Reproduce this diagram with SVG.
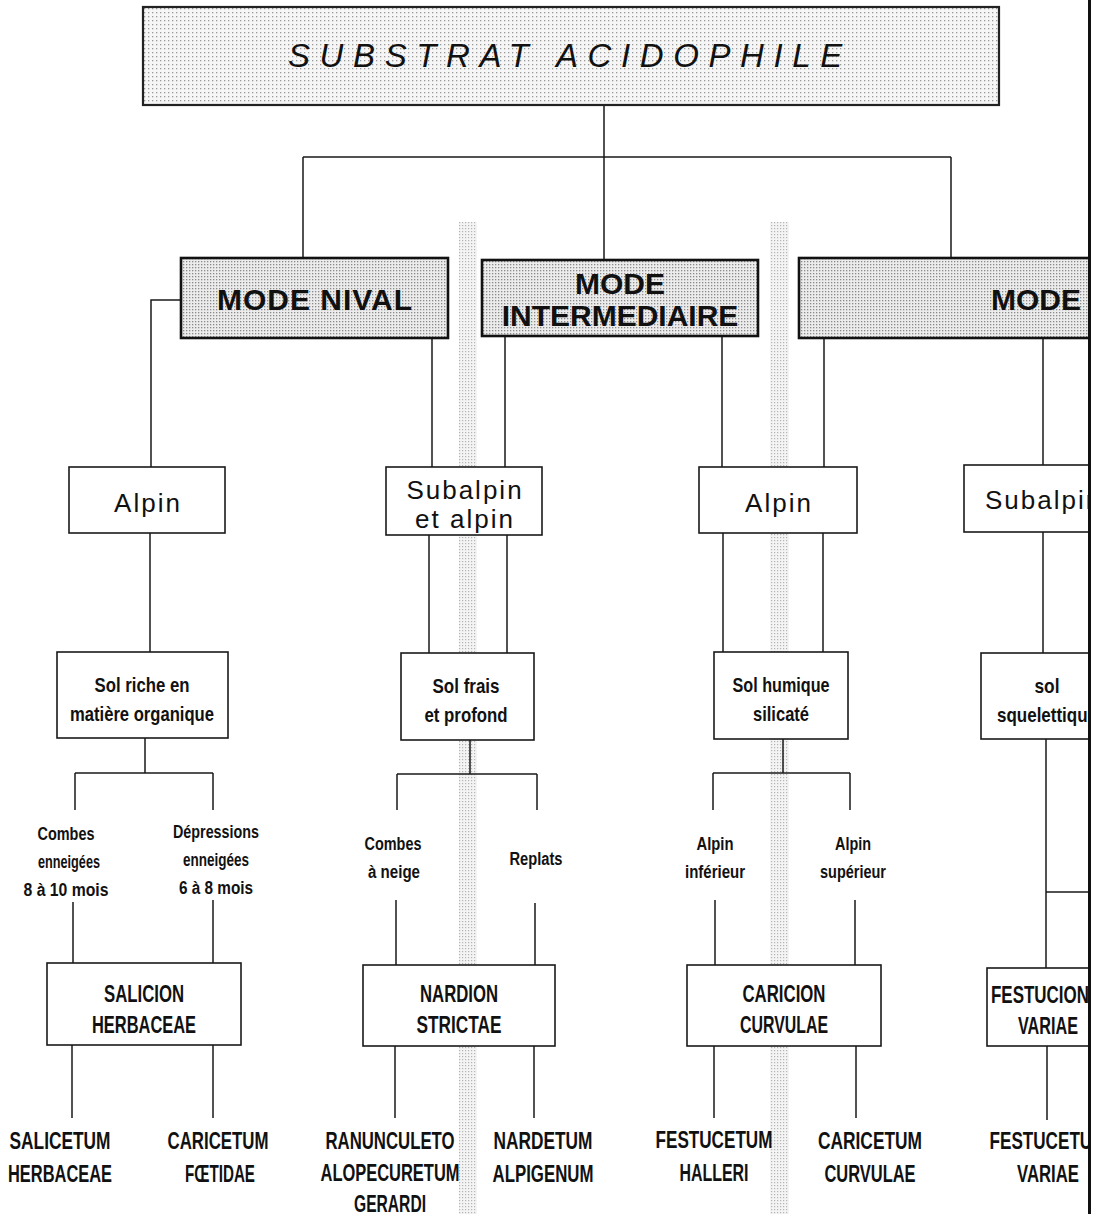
<svg xmlns="http://www.w3.org/2000/svg" width="1094" height="1214" viewBox="0 0 1094 1214">
  <style>
    .ln { fill: none; stroke: #1a1a1a; stroke-width: 1.5; }
    .box { fill: #ffffff; stroke: #1a1a1a; stroke-width: 1.6; }
    .mode { fill: url(#dotsMode); stroke: #111; stroke-width: 2.6; }
    .head { fill: url(#dotsHead); stroke: #222; stroke-width: 2.2; }
    .strip { fill: url(#dotsStrip); }
    .title { font-family: "Liberation Sans", Arial, sans-serif; font-style: italic; font-size: 33px; letter-spacing: 9.6px; fill: #111; }
    .modeT { font-family: "Liberation Sans", Arial, sans-serif; font-weight: bold; font-size: 30px; fill: #111; text-anchor: middle; }
    .zone { font-family: "Liberation Sans", Arial, sans-serif; font-size: 26px; letter-spacing: 2px; fill: #111; text-anchor: middle; }
    .cnd { font-family: "Liberation Sans Narrow", "Liberation Sans", Arial, sans-serif; font-weight: bold; fill: #111; text-anchor: middle; }
    .s21 { font-size: 21px; }
    .s18 { font-size: 18px; }
    .s23 { font-size: 23px; }
  </style>
  <defs>
    <pattern id="dotsHead" width="4" height="4" patternUnits="userSpaceOnUse">
      <rect width="4" height="4" fill="#f6f6f6"/>
      <rect x="0" y="0" width="1.3" height="1.3" fill="#9a9a9a"/>
    </pattern>
    <pattern id="dotsMode" width="3" height="3" patternUnits="userSpaceOnUse">
      <rect width="3" height="3" fill="#ececec"/>
      <rect x="0" y="0" width="1.3" height="1.3" fill="#8a8a8a"/>
    </pattern>
    <pattern id="dotsStrip" width="3" height="3" patternUnits="userSpaceOnUse">
      <rect width="3" height="3" fill="#f4f4f4"/>
      <rect x="0" y="0" width="1.2" height="1.2" fill="#b4b4b4"/>
    </pattern>
    <clipPath id="page">
      <rect x="0" y="0" width="1088" height="1214"/>
    </clipPath>
  </defs>

  <rect x="0" y="0" width="1094" height="1214" fill="#ffffff"/>

  <g clip-path="url(#page)">
    <!-- shaded vertical bands -->
    <g id="bands">
      <rect class="strip" x="459" y="222" width="18" height="992"/>
      <rect class="strip" x="770" y="222" width="19" height="992"/>
    </g>

    <!-- connectors -->
    <g id="connectors">
      <path class="ln" d="M604 105 V157 M303 157 H951 M303 157 V258 M604 157 V260 M951 157 V258"/>
      <path class="ln" d="M181 300 H151 V467 M432 338 V467 M505 336 V467 M722 336 V467 M824 338 V467 M1043 338 V465"/>
      <path class="ln" d="M150 533 V652 M429 535 V653 M507 535 V653 M723 533 V652 M823 533 V652 M1043 532 V653"/>
      <path class="ln" d="M145 738 V773 M75 773 H213 M75 773 V810 M213 773 V810"/>
      <path class="ln" d="M470 740 V774 M397 774 H537 M397 774 V810 M537 774 V810"/>
      <path class="ln" d="M783 739 V773 M713 773 H850 M713 773 V810 M850 773 V810"/>
      <path class="ln" d="M73 902 V963 M213 900 V963 M396 900 V965 M535 903 V965 M715 900 V965 M855 900 V965"/>
      <path class="ln" d="M72 1045 V1118 M213 1045 V1118 M395 1046 V1118 M534 1046 V1118 M714 1046 V1118 M856 1046 V1118 M1047 1046 V1120"/>
      <path class="ln" d="M1046 739 V968 M1046 892 H1088"/>
    </g>

    <!-- root -->
    <g id="substrat">
      <rect class="head" x="143" y="7" width="856" height="98"/>
      <text class="title" x="288" y="67">SUBSTRAT ACIDOPHILE</text>
    </g>

    <!-- modes -->
    <g id="mode-nival">
      <rect class="mode" x="181" y="258" width="267" height="80"/>
      <text class="modeT" x="315" y="310" letter-spacing="1">MODE NIVAL</text>
    </g>
    <g id="mode-intermediaire">
      <rect class="mode" x="482" y="260" width="276" height="76"/>
      <text class="modeT" x="620" y="294">MODE</text>
      <text class="modeT" x="620" y="326">INTERMEDIAIRE</text>
    </g>
    <g id="mode-droite">
      <rect class="mode" x="799" y="258" width="310" height="80"/>
      <text class="modeT" x="1036" y="310">MODE</text>
    </g>

    <!-- altitude levels -->
    <g id="alpin-1">
      <rect class="box" x="69" y="467" width="156" height="66"/>
      <text class="zone" x="148" y="512">Alpin</text>
    </g>
    <g id="subalpin-alpin">
      <rect class="box" x="386" y="467" width="156" height="68"/>
      <text class="zone" x="465" y="499">Subalpin</text>
      <text class="zone" x="465" y="528">et alpin</text>
    </g>
    <g id="alpin-2">
      <rect class="box" x="699" y="467" width="158" height="66"/>
      <text class="zone" x="779" y="512">Alpin</text>
    </g>
    <g id="subalpin-droite">
      <rect class="box" x="964" y="465" width="140" height="67"/>
      <text class="zone" x="985" y="509" style="text-anchor:start">Subalpin</text>
    </g>

    <!-- soils -->
    <g id="sol-riche">
      <rect class="box" x="57" y="652" width="171" height="86"/>
      <text class="cnd s21" x="142" y="692" textLength="95" lengthAdjust="spacingAndGlyphs">Sol riche en</text>
      <text class="cnd s21" x="142" y="721" textLength="144" lengthAdjust="spacingAndGlyphs">matière organique</text>
    </g>
    <g id="sol-frais">
      <rect class="box" x="401" y="653" width="133" height="87"/>
      <text class="cnd s21" x="466" y="693" textLength="67" lengthAdjust="spacingAndGlyphs">Sol frais</text>
      <text class="cnd s21" x="466" y="722" textLength="83" lengthAdjust="spacingAndGlyphs">et profond</text>
    </g>
    <g id="sol-humique">
      <rect class="box" x="714" y="652" width="134" height="87"/>
      <text class="cnd s21" x="781" y="692" textLength="97" lengthAdjust="spacingAndGlyphs">Sol humique</text>
      <text class="cnd s21" x="781" y="721" textLength="56" lengthAdjust="spacingAndGlyphs">silicaté</text>
    </g>
    <g id="sol-squelettique">
      <rect class="box" x="981" y="653" width="130" height="86"/>
      <text class="cnd s21" x="1047" y="693" textLength="25" lengthAdjust="spacingAndGlyphs">sol</text>
      <text class="cnd s21" x="1047" y="722" textLength="100" lengthAdjust="spacingAndGlyphs">squelettique</text>
    </g>

    <!-- site conditions -->
    <g id="combes-enneigees">
      <text class="cnd s18" x="66" y="840" textLength="57" lengthAdjust="spacingAndGlyphs">Combes</text>
      <text class="cnd s18" x="69" y="868" textLength="62" lengthAdjust="spacingAndGlyphs">enneigées</text>
      <text class="cnd s18" x="66" y="896" textLength="85" lengthAdjust="spacingAndGlyphs">8 à 10 mois</text>
    </g>
    <g id="depressions-enneigees">
      <text class="cnd s18" x="216" y="838" textLength="86" lengthAdjust="spacingAndGlyphs">Dépressions</text>
      <text class="cnd s18" x="216" y="866" textLength="66" lengthAdjust="spacingAndGlyphs">enneigées</text>
      <text class="cnd s18" x="216" y="894" textLength="74" lengthAdjust="spacingAndGlyphs">6 à 8 mois</text>
    </g>
    <g id="combes-neige">
      <text class="cnd s18" x="393" y="850" textLength="57" lengthAdjust="spacingAndGlyphs">Combes</text>
      <text class="cnd s18" x="394" y="878" textLength="52" lengthAdjust="spacingAndGlyphs">à neige</text>
    </g>
    <g id="replats">
      <text class="cnd s18" x="536" y="865" textLength="53" lengthAdjust="spacingAndGlyphs">Replats</text>
    </g>
    <g id="alpin-inferieur">
      <text class="cnd s18" x="715" y="850" textLength="37" lengthAdjust="spacingAndGlyphs">Alpin</text>
      <text class="cnd s18" x="715" y="878" textLength="60" lengthAdjust="spacingAndGlyphs">inférieur</text>
    </g>
    <g id="alpin-superieur">
      <text class="cnd s18" x="853" y="850" textLength="36" lengthAdjust="spacingAndGlyphs">Alpin</text>
      <text class="cnd s18" x="853" y="878" textLength="66" lengthAdjust="spacingAndGlyphs">supérieur</text>
    </g>

    <!-- alliances -->
    <g id="salicion">
      <rect class="box" x="47" y="963" width="194" height="82"/>
      <text class="cnd s23" x="144" y="1002" textLength="80" lengthAdjust="spacingAndGlyphs">SALICION</text>
      <text class="cnd s23" x="144" y="1033" textLength="104" lengthAdjust="spacingAndGlyphs">HERBACEAE</text>
    </g>
    <g id="nardion">
      <rect class="box" x="363" y="965" width="192" height="81"/>
      <text class="cnd s23" x="459" y="1002" textLength="78" lengthAdjust="spacingAndGlyphs">NARDION</text>
      <text class="cnd s23" x="459" y="1033" textLength="85" lengthAdjust="spacingAndGlyphs">STRICTAE</text>
    </g>
    <g id="caricion">
      <rect class="box" x="687" y="965" width="194" height="81"/>
      <text class="cnd s23" x="784" y="1002" textLength="83" lengthAdjust="spacingAndGlyphs">CARICION</text>
      <text class="cnd s23" x="784" y="1033" textLength="88" lengthAdjust="spacingAndGlyphs">CURVULAE</text>
    </g>
    <g id="festucion">
      <rect class="box" x="987" y="968" width="130" height="78"/>
      <text class="cnd s23" x="1040" y="1003" textLength="98" lengthAdjust="spacingAndGlyphs">FESTUCION</text>
      <text class="cnd s23" x="1048" y="1034" textLength="60" lengthAdjust="spacingAndGlyphs">VARIAE</text>
    </g>

    <!-- associations -->
    <g id="salicetum">
      <text class="cnd s23" x="60" y="1149" textLength="101" lengthAdjust="spacingAndGlyphs">SALICETUM</text>
      <text class="cnd s23" x="60" y="1182" textLength="104" lengthAdjust="spacingAndGlyphs">HERBACEAE</text>
    </g>
    <g id="caricetum-foetidae">
      <text class="cnd s23" x="218" y="1149" textLength="101" lengthAdjust="spacingAndGlyphs">CARICETUM</text>
      <text class="cnd s23" x="220" y="1182" textLength="70" lengthAdjust="spacingAndGlyphs">FŒTIDAE</text>
    </g>
    <g id="ranunculeto">
      <text class="cnd s23" x="390" y="1149" textLength="129" lengthAdjust="spacingAndGlyphs">RANUNCULETO</text>
      <text class="cnd s23" x="390" y="1181" textLength="139" lengthAdjust="spacingAndGlyphs">ALOPECURETUM</text>
      <text class="cnd s23" x="390" y="1212" textLength="72" lengthAdjust="spacingAndGlyphs">GERARDI</text>
    </g>
    <g id="nardetum">
      <text class="cnd s23" x="543" y="1149" textLength="99" lengthAdjust="spacingAndGlyphs">NARDETUM</text>
      <text class="cnd s23" x="543" y="1182" textLength="101" lengthAdjust="spacingAndGlyphs">ALPIGENUM</text>
    </g>
    <g id="festucetum-halleri">
      <text class="cnd s23" x="714" y="1148" textLength="117" lengthAdjust="spacingAndGlyphs">FESTUCETUM</text>
      <text class="cnd s23" x="714" y="1181" textLength="69" lengthAdjust="spacingAndGlyphs">HALLERI</text>
    </g>
    <g id="caricetum-curvulae">
      <text class="cnd s23" x="870" y="1149" textLength="104" lengthAdjust="spacingAndGlyphs">CARICETUM</text>
      <text class="cnd s23" x="870" y="1182" textLength="91" lengthAdjust="spacingAndGlyphs">CURVULAE</text>
    </g>
    <g id="festucetum-variae">
      <text class="cnd s23" x="1048" y="1149" textLength="117" lengthAdjust="spacingAndGlyphs">FESTUCETUM</text>
      <text class="cnd s23" x="1048" y="1182" textLength="62" lengthAdjust="spacingAndGlyphs">VARIAE</text>
    </g>
  </g>

  <!-- right-hand edge rule -->
  <rect x="1088" y="0" width="3" height="1214" fill="#111"/>
</svg>
